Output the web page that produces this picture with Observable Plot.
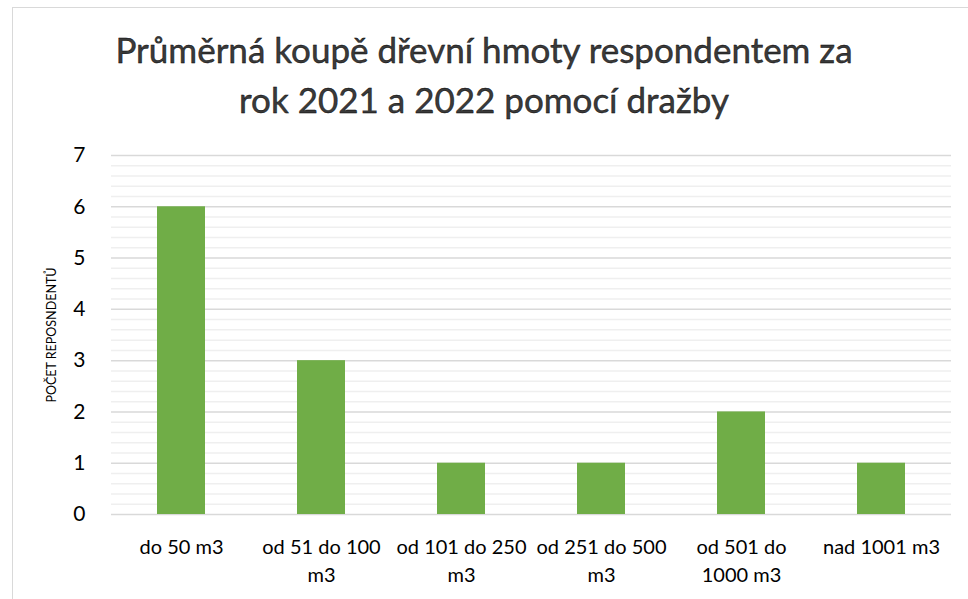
<!DOCTYPE html>
<html><head><meta charset="utf-8">
<script src="https://cdn.jsdelivr.net/npm/d3@7"></script>
<script src="https://cdn.jsdelivr.net/npm/@observablehq/plot@0.6"></script>
<style>
html,body{margin:0;padding:0;background:#fff;}
#frame{position:absolute;left:12px;top:7px;width:960px;height:600px;border:1px solid #d9d9d9;box-sizing:border-box;}
#title{position:absolute;left:0;top:24px;width:968px;text-align:center;font-family:Lato,"Open Sans",sans-serif;font-size:35px;line-height:50px;color:#3a3a3a;-webkit-text-stroke:0.4px #000;}
#chart{position:absolute;left:0;top:130px;}
</style></head>
<body>
<div id="frame"></div>
<div id="title">Průměrná koupě dřevní hmoty respondentem za<br>rok 2021 a 2022 pomocí dražby</div>
<div id="chart"></div>
<script>
const categories = ["do 50 m3","od 51 do 100 m3","od 101 do 250 m3","od 251 do 500 m3","od 501 do 1000 m3","nad 1001 m3"];
const values = [6, 3, 1, 1, 2, 1];
const wrapped = ["do 50 m3","od 51 do 100\nm3","od 101 do 250\nm3","od 251 do 500\nm3","od 501 do\n1000 m3","nad 1001 m3"];
const yTicks = [0,1,2,3,4,5,6,7];
const yLabel = "POČET REPOSNDENTŮ";

const data = categories.map((c,i)=>({cat:c, value:values[i]}));
const minor = d3.range(0, 7.001, 0.2).filter(v => Math.abs(v - Math.round(v)) > 1e-6);
const labelMap = new Map(categories.map((c,i)=>[c, wrapped[i]]));

const chart = Plot.plot({
  width: 968,
  height: 469,
  marginLeft: 111,
  marginRight: 17,
  marginTop: 25,
  marginBottom: 85,
  style: {fontFamily: "Lato, 'Open Sans', sans-serif", background: "transparent"},
  x: {domain: categories, paddingInner: 0.66, paddingOuter: 0.33, label: null},
  y: {domain: [0, 7], label: null},
  marks: [
    Plot.ruleY(minor, {stroke: "#efefef", strokeWidth: 1.5}),
    Plot.ruleY(yTicks, {stroke: "#d9d9d9", strokeWidth: 1.5}),
    Plot.barY(data, {x: "cat", y: "value", fill: "#70AD47"}),
    Plot.axisY(yTicks, {tickSize: 0, tickPadding: 26, fontSize: 21, color: "#000", tickFormat: d3.format("d"), label: yLabel, labelAnchor: "center", labelArrow: "none", labelOffset: 64}),
    Plot.axisX({tickSize: 0, tickPadding: 20, fontSize: 20, color: "#000", tickFormat: d => labelMap.get(d), lineHeight: 1.4, label: null})
  ]
});
document.getElementById("chart").appendChild(chart);
chart.querySelectorAll("g[aria-label='y-axis label'] text").forEach(t => { t.setAttribute("font-size", "12.5"); t.setAttribute("fill", "#000"); });
</script>
</body></html>
